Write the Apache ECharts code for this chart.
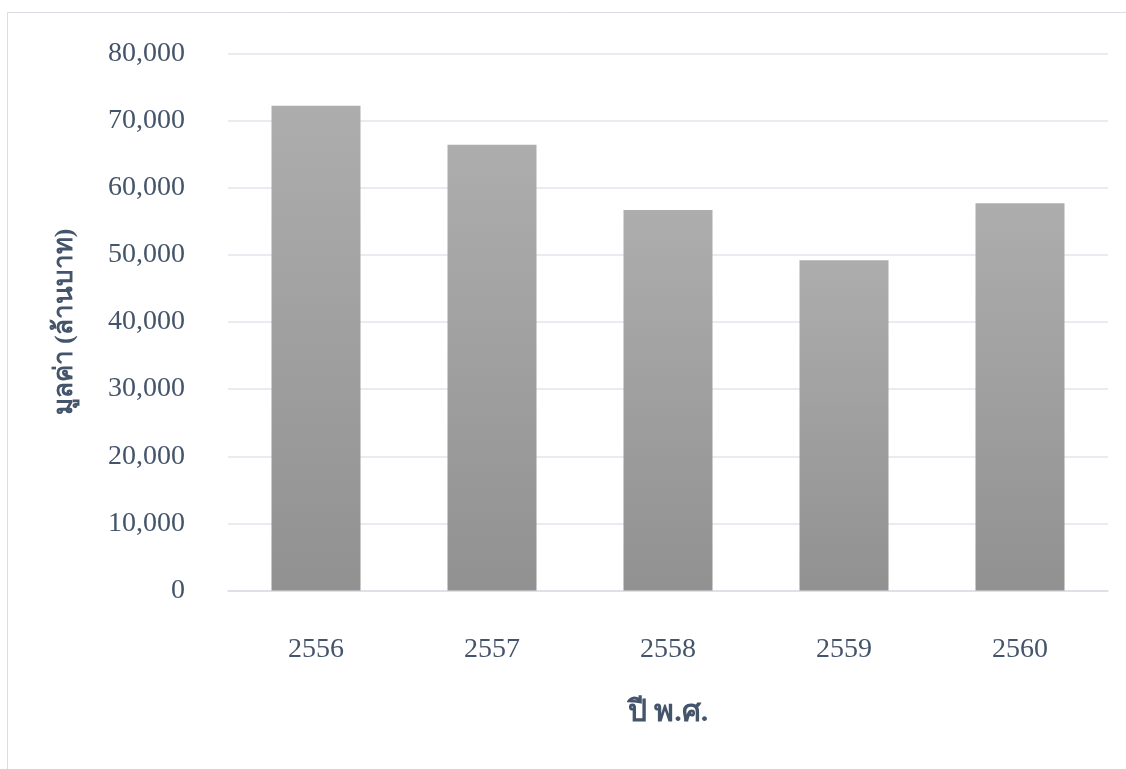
<!DOCTYPE html>
<html><head><meta charset="utf-8">
<script src="https://cdn.jsdelivr.net/npm/echarts@6/dist/echarts.min.js"></script>
<style>html,body{margin:0;padding:0;background:#fff}#c{width:1126px;height:769px}</style>
</head><body><div id="c"></div>
<script>
const categories = ['2556', '2557', '2558', '2559', '2560'];
const values = [72200, 66400, 56700, 49200, 57700];
const yTicks = { min: 0, max: 80000, interval: 10000 };
const xTitle = 'ปี พ.ศ.';
const yTitle = 'มูลค่า (ล้านบาท)';

const textColor = '#44546a';
const serif = '"Liberation Serif", "Times New Roman", serif';
const chart = echarts.init(document.getElementById('c'), null, { renderer: 'canvas' });
chart.setOption({
  animation: false,
  backgroundColor: '#fff',
  graphic: [{
    type: 'rect', shape: { x: 7.5, y: 12.5, width: 1300, height: 900 },
    style: { fill: 'none', stroke: '#d9dde3', lineWidth: 1 }, silent: true, z: -1
  }],
  grid: { left: 228, right: 18, top: 53.5, bottom: 178.5, containLabel: false },
  xAxis: {
    type: 'category', data: categories,
    axisLine: { lineStyle: { color: '#d9dde3', width: 1.5 } },
    axisTick: { show: false },
    axisLabel: { color: textColor, fontFamily: serif, fontSize: 28, margin: 45 },
    name: xTitle, nameLocation: 'middle', nameGap: 108,
    nameTextStyle: { color: textColor, fontFamily: serif, fontSize: 30, fontWeight: 'bold' }
  },
  yAxis: {
    type: 'value', min: yTicks.min, max: yTicks.max, interval: yTicks.interval,
    axisLine: { show: false }, axisTick: { show: false },
    splitLine: { lineStyle: { color: '#e1e5ea', width: 1.5 } },
    axisLabel: {
      color: textColor, fontFamily: serif, fontSize: 28, margin: 43,
      formatter: v => v.toLocaleString('en-US')
    },
    name: yTitle, nameLocation: 'middle', nameGap: 150, nameRotate: 90,
    nameTextStyle: { color: textColor, fontFamily: serif, fontSize: 26, fontWeight: 'bold' }
  },
  series: [{
    type: 'bar', data: values, barWidth: 89,
    itemStyle: {
      color: new echarts.graphic.LinearGradient(0, 0, 0, 1, [
        { offset: 0, color: '#adadad' }, { offset: 1, color: '#919191' }
      ])
    }
  }]
});
</script></body></html>
